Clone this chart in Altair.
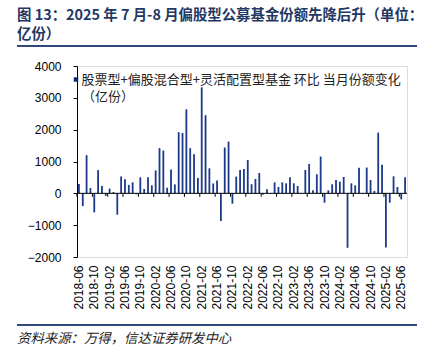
import altair as alt
import pandas as pd

# ---- data ----
all_months = [f"{y}-{m:02d}" for y in range(2018, 2026) for m in range(1, 13)]
months = all_months[all_months.index("2018-06"): all_months.index("2025-07") + 1]

values = [
    290, -400, 1200, 165, -600, 730, 230, -80, 150, 40,
    -670, 530, 445, 265, 345, -30, 505, 135, 505, 250,
    720, 1420, 1345, 175, 750, 280, 1920, 1895, 2640, 1420,
    1230, 485, 3330, 2455, 785, 310, 400, -870, 1440, 1625,
    -325, 525, 735, 765, 1050, 285, 450, 640, -40, 125,
    10, 345, 200, 345, 315, 505, 315, 230, -20, 735,
    925, 95, 600, 1155, -295, 95, 285, 420, 365, 515,
    -1710, 315, 250, 800, -15, 810, 420, 75, 1910, 900,
    -1700, -295, 535, 200, -190, 505,
]
tick_labels = months[::4]
y_ticks = [-2000, -1000, 0, 1000, 2000, 3000, 4000]

series_name = "股票型+偏股混合型+灵活配置型基金 环比 当月份额变化"
unit_line = "（亿份）"
title_1 = "图 13：2025 年 7 月-8 月偏股型公募基金份额先降后升（单位："
title_2 = "亿份）"
source = "资料来源：万得，信达证券研发中心"

NAVY = "#1d3a8a"
DARK = "#1f3864"
CJK = "Noto Sans CJK SC"
LAT = "Liberation Sans"

df = pd.DataFrame({"month": months, "value": values})
ticks_df = pd.DataFrame({"month": tick_labels, "value": [0] * len(tick_labels)})
zero_df = pd.DataFrame({"value": [0]})
one = pd.DataFrame({"k": [0]})

xscale = alt.Scale(domain=months, paddingInner=0, paddingOuter=0)
yscale = alt.Scale(domain=[-2000, 4000], nice=False, zero=False)

xaxis = alt.Axis(values=tick_labels, labelAngle=-90, domain=False, ticks=False,
                 labelPadding=8, labelFont=LAT, labelFontSize=12, labelColor="#000",
                 labelOverlap=False, title=None)
yaxis = alt.Axis(values=y_ticks, tickCount=7, grid=False, domain=True, domainColor="#000",
                 tickColor="#000", tickSize=4, labelPadding=12, labelFont=LAT,
                 labelFontSize=12, labelColor="#000", labelOverlap=False, format="d",
                 title=None)

bars = alt.Chart(df).mark_bar(size=1.8, color=NAVY).encode(
    x=alt.X("month:N", scale=xscale, sort=None, axis=xaxis),
    y=alt.Y("value:Q", scale=yscale, axis=yaxis),
)

zero = alt.Chart(zero_df).mark_rule(color="#000", strokeWidth=1).encode(
    y=alt.Y("value:Q", scale=yscale, axis=yaxis)
)

xticks = alt.Chart(ticks_df).mark_rule(color="#000", strokeWidth=1).encode(
    x=alt.X("month:N", scale=xscale, sort=None, bandPosition=0, axis=xaxis),
    y=alt.Y("value:Q", scale=yscale, axis=yaxis),
    y2=alt.datum(-110),
)

legend_sym = alt.Chart(one).mark_point(shape="square", filled=True, size=20, color="#0b2a7a", opacity=1).encode(
    x=alt.value(-1), y=alt.value(13.5)
)
legend_txt = alt.Chart(one).mark_text(align="left", baseline="middle", font=CJK, fontSize=13, color="#222").encode(
    x=alt.value(4.5), y=alt.value(13.5), text=alt.value(series_name)
)
legend_txt2 = alt.Chart(one).mark_text(align="left", baseline="middle", font=CJK, fontSize=13, color="#222").encode(
    x=alt.value(5), y=alt.value(31), text=alt.value(unit_line)
)

t1 = alt.Chart(one).mark_text(align="left", baseline="middle", font=CJK, fontSize=14.4, fontWeight="bold", color=DARK).encode(
    x=alt.value(-60), y=alt.value(-50.5), text=alt.value(title_1)
)
t2 = alt.Chart(one).mark_text(align="left", baseline="middle", font=CJK, fontSize=14.4, fontWeight="bold", color=DARK).encode(
    x=alt.value(-60), y=alt.value(-31), text=alt.value(title_2)
)
rule_top = alt.Chart(one).mark_rule(color="#2e4a7d", strokeWidth=2).encode(
    x=alt.value(-60), x2=alt.value(340), y=alt.value(-20)
)
rule_bot = alt.Chart(one).mark_rule(color="#2e4a7d", strokeWidth=2).encode(
    x=alt.value(-60), x2=alt.value(340), y=alt.value(259)
)
src = alt.Chart(one).mark_text(align="left", baseline="middle", font=CJK, fontSize=13.4, fontStyle="italic", color="#222").encode(
    x=alt.value(-60), y=alt.value(273), text=alt.value(source)
)

chart = alt.layer(
    bars, zero, xticks, legend_sym, legend_txt, legend_txt2, t1, t2, rule_top, rule_bot, src
).properties(
    width=330, height=191,
    autosize=alt.AutoSizeParams(type="none"),
    padding={"left": 77, "top": 66, "right": 29, "bottom": 96},
).configure_view(stroke=None).configure_axis(labelOverlap=False).configure(background="white")

chart.save("out.html", embed_options={"renderer": "svg", "actions": False})
